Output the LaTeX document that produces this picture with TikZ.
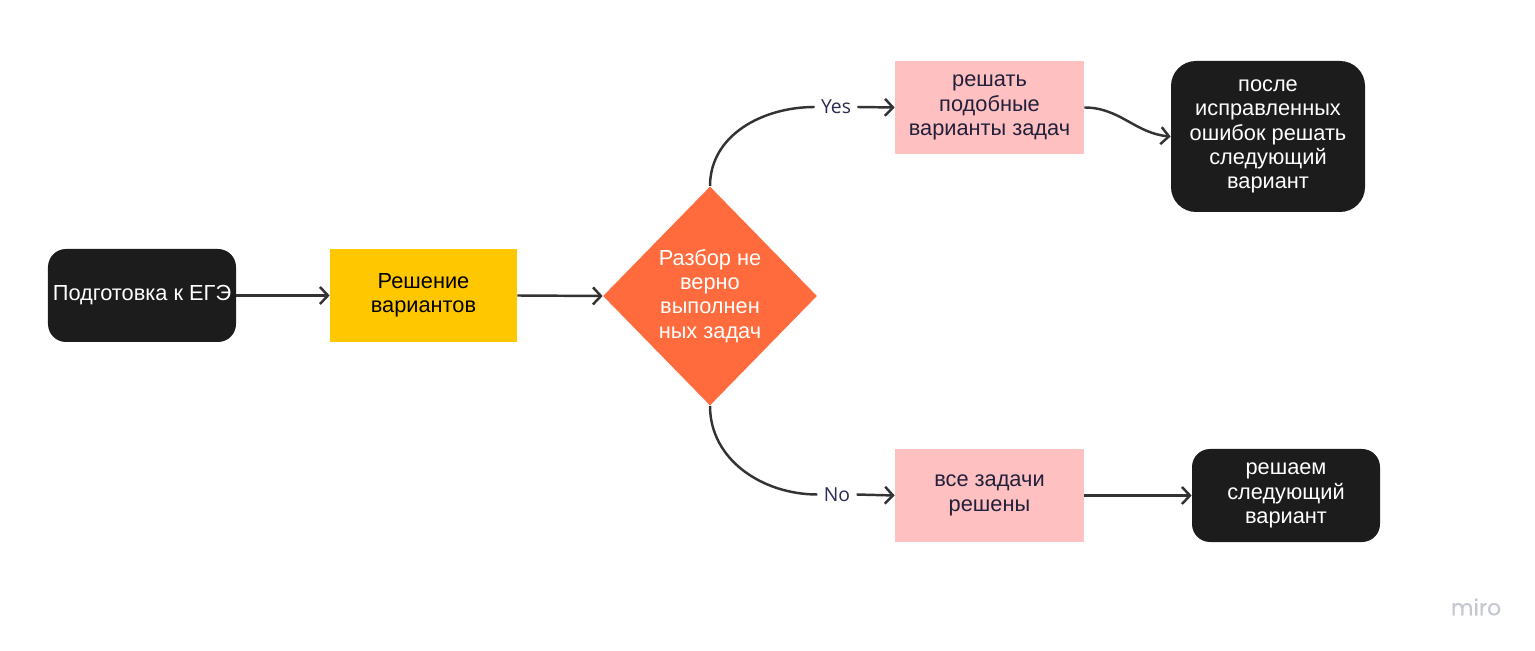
\documentclass[tikz,border=0pt]{standalone}
\usepackage{fontspec}
\setmainfont{Liberation Sans}
\newfontfamily\labelfont{Open Sans}
\newfontfamily\logofont{Poppins}[FakeBold=0.6]
\usetikzlibrary{shapes.geometric,arrows.meta}
\definecolor{boxblack}{HTML}{1C1C1C}
\definecolor{boxyellow}{HTML}{FFC700}
\definecolor{boxorange}{HTML}{FF6B3D}
\definecolor{boxpink}{HTML}{FFC0C1}
\definecolor{inkdark}{HTML}{22203A}
\definecolor{labelink}{HTML}{2B2A52}
\definecolor{linegray}{HTML}{333333}
\definecolor{logogray}{HTML}{C6C8D0}
\begin{document}
\begin{tikzpicture}[x=0.2mm, y=0.2mm,
  every node/.style={font=\fontsize{12.4}{13.8}\selectfont, align=center},
  darkbox/.style={fill=boxblack, text=white, rounded corners=0.36cm, inner xsep=1pt, minimum width=3.76cm, minimum height=1.86cm},
  pinkbox/.style={fill=boxpink, text=inkdark, minimum width=3.78cm, minimum height=1.86cm},
  branch/.style={font=\labelfont\fontsize{11}{13}\selectfont, text=labelink, inner sep=3.5pt},
  conn/.style={draw=linegray, line width=1.4pt, -{Straight Barb[length=1.6mm,width=3.4mm]}},
  flow/.style={draw=linegray, line width=1.4pt}]
\useasboundingbox (0,0) rectangle (1535,-651);
\node (start) at (142,-295.5) [darkbox] {Подготовка к ЕГЭ};
\node (sol) at (423.5,-295.5) [fill=boxyellow, minimum width=3.74cm, minimum height=1.86cm] {Решение\\вариантов};
\node (dec) at (710,-296) [diamond, fill=boxorange, text=white, inner sep=0pt, minimum width=4.28cm, minimum height=4.38cm] {Разбор не\\верно\\выполнен\\ных задач};
\node (fix) at (989.5,-107.5) [pinkbox] {решать\\подобные\\варианты задач};
\node (next1) at (1268,-136.5) [darkbox, rounded corners=0.5cm, minimum width=3.88cm, minimum height=3.02cm] {после\\исправленных\\ошибок решать\\следующий\\вариант};
\node (done) at (989.5,-495.5) [pinkbox] {все задачи\\решены};
\node (next2) at (1286,-495.5) [darkbox] {решаем\\следующий\\вариант};
\node (yes) at (836,-107) [branch] {Yes};
\node (no) at (837,-494.5) [branch] {No};
\node (logo) at (1476,-607) [font=\logofont\fontsize{12.5}{14}\selectfont, text=logogray] {miro};
\draw [conn] (start.east) -- (sol.west);
\draw [conn] (sol.east) -- (dec.west);
\draw [flow] (dec.north) to[out=90,in=180] (yes.west);
\draw [conn] (yes.east) -- (fix.west);
\draw [flow] (dec.south) to[out=-90,in=180] (no.west);
\draw [conn] (no.east) -- (done.west);
\draw [conn] (fix.east) to[out=0,in=175] (next1.west);
\draw [conn] (done.east) -- (next2.west);
\end{tikzpicture}
\end{document}
